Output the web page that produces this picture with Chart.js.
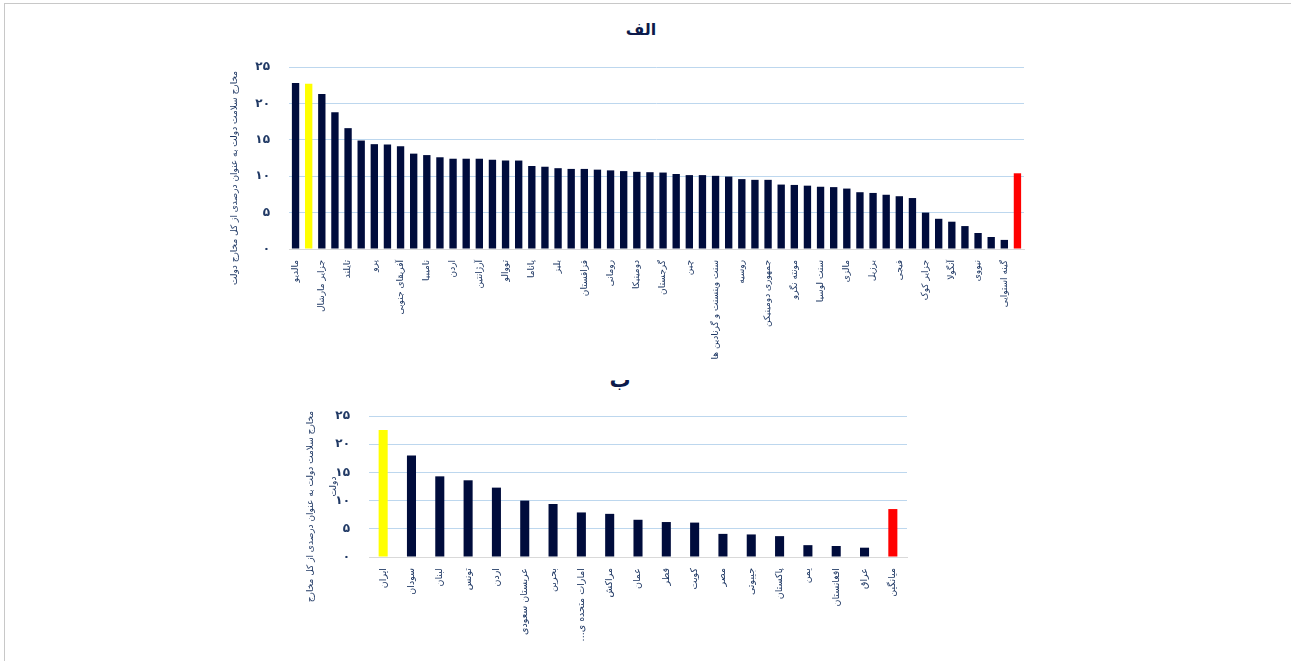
<!DOCTYPE html>
<html lang="fa">
<head>
<meta charset="utf-8">
<script src="https://cdn.jsdelivr.net/npm/chart.js@4.4.0/dist/chart.umd.min.js"></script>
<style>
  html, body { margin: 0; padding: 0; background: #fff; }
  body { width: 1291px; height: 661px; position: relative; overflow: hidden; }
  .frame { position: absolute; left: 4px; top: 3px; right: 0; bottom: 0;
           border-left: 1px solid #c8c8c8; border-top: 1px solid #c8c8c8; }
  .title { position: absolute; width: 200px; text-align: center; transform: translate(-50%, -50%);
           font: bold 16px 'DejaVu Sans', sans-serif; color: #0c1a4b; line-height: 24px; }
  #chartA { position: absolute; left: 220px; top: 10px; }
  #chartB { position: absolute; left: 290px; top: 365px; }
</style>
</head>
<body>
<div class="frame"></div>
<div class="title" style="left:641px; top:30px;">الف</div>
<div class="title" style="left:620px; top:380px; font-size:21px;">ب</div>
<canvas id="chartA" width="842" height="360"></canvas>
<canvas id="chartB" width="660" height="290"></canvas>

<script>
// --- data: chart "الف" (every other country is labelled in the original)
const countriesA = [
  'مالدیو', '', 'جزایر مارشال', '', 'تایلند', '', 'پرو', '', 'آفریقای جنوبی', '',
  'نامیبیا', '', 'اردن', '', 'آرژانتین', '', 'تووالو', '', 'پاناما', '',
  'بلیز', '', 'قزاقستان', '', 'رومانی', '', 'دومینیکا', '', 'گرجستان', '',
  'چین', '', 'سنت وینسنت و گرنادین ها', '', 'روسیه', '', 'جمهوری دومینیکن', '', 'مونته نگرو', '',
  'سنت لوسیا', '', 'مالزی', '', 'برزیل', '', 'فیجی', '', 'جزایر کوک', '',
  'آنگولا', '', 'نیووی', '', 'گینه استوایی', 'میانگین'
];
const valuesA = [
  22.8, 22.7, 21.3, 18.8, 16.6, 14.9, 14.4, 14.35, 14.1, 13.1,
  12.9, 12.6, 12.4, 12.4, 12.4, 12.25, 12.15, 12.15, 11.4, 11.3,
  11.1, 11.0, 11.0, 10.9, 10.8, 10.7, 10.6, 10.55, 10.5, 10.3,
  10.15, 10.15, 10.05, 9.95, 9.6, 9.5, 9.5, 8.85, 8.8, 8.7,
  8.55, 8.5, 8.3, 7.8, 7.7, 7.45, 7.25, 7.0, 5.0, 4.15,
  3.75, 3.15, 2.2, 1.65, 1.25, 10.4
];
const iranIndexA = 1;
const meanIndexA = 55;

// --- data: chart "ب"
const countriesB = [
  'ایران', 'سودان', 'لبنان', 'تونس', 'اردن', 'عربستان سعودی', 'بحرین', 'امارات متحده ی...\u200F',
  'مراکش', 'عمان', 'قطر', 'کویت', 'مصر', 'جیبوتی', 'پاکستان', 'یمن', 'افغانستان', 'عراق', 'میانگین'
];
const valuesB = [22.5, 18.0, 14.3, 13.6, 12.3, 10.0, 9.4, 7.9, 7.65, 6.6, 6.2, 6.1, 4.1, 4.0, 3.7, 2.1, 1.95, 1.65, 8.5];
const iranIndexB = 0;
const meanIndexB = 18;

const yTicks = [0, 5, 10, 15, 20, 25];
const yTitle = 'مخارج سلامت دولت به عنوان درصدی از کل مخارج دولت';

const FONT = "'DejaVu Sans', sans-serif";
const NAVY = '#000c3c';
const TEXT = '#1f3864';
// trailing gap pushes the rotated axis title a bit lower, as in the original
const GAP = '\u00A0'.repeat(14);

function toFa(n) {
  return String(n).replace(/\d/g, d => '۰۱۲۳۴۵۶۷۸۹'[d]);
}

function barColors(values, iranIdx, meanIdx) {
  return values.map((v, i) => i === iranIdx ? '#ffff00' : (i === meanIdx ? '#ff0000' : NAVY));
}

function makeChart(id, cfg) {
  const ctx = document.getElementById(id);
  return new Chart(ctx, {
    type: 'bar',
    data: {
      labels: cfg.labels,
      datasets: [{
        data: cfg.values,
        backgroundColor: barColors(cfg.values, cfg.iran, cfg.mean),
        borderWidth: 0,
        barPercentage: cfg.barPct,
        categoryPercentage: 1
      }]
    },
    options: {
      responsive: false,
      animation: false,
      layout: { padding: { left: 0, right: cfg.padRight, top: cfg.padTop, bottom: 0 } },
      plugins: {
        legend: { display: false },
        tooltip: { enabled: false }
      },
      scales: {
        x: {
          grid: { display: false },
          border: { color: '#d9d9d9' },
          ticks: {
            autoSkip: false,
            minRotation: 90,
            maxRotation: 90,
            padding: 3,
            color: TEXT,
            font: { family: FONT, size: cfg.labelSize },
            callback: function(v, i) {
              if (cfg.everyOther && i % 2 === 1) return '';
              return this.getLabelForValue(v);
            }
          },
          afterFit: s => { s.height = cfg.xHeight; }
        },
        y: {
          min: 0,
          max: 25,
          afterBuildTicks: s => { s.ticks = yTicks.map(v => ({ value: v })); },
          border: { display: false },
          grid: {
            drawTicks: false,
            color: c => c.tick && c.tick.value === 0 ? '#d9d9d9' : '#bdd7ee'
          },
          ticks: {
            padding: cfg.tickPad,
            color: TEXT,
            font: { family: FONT, size: 12, weight: 'bold' },
            callback: v => toFa(v)
          },
          title: {
            display: true,
            text: cfg.yTitle,
            color: TEXT,
            font: { family: FONT, size: 9, lineHeight: cfg.yTitleLH },
            padding: { top: cfg.yTitleTop, bottom: 0 }
          },
          afterFit: s => { s.width = cfg.yWidth; }
        }
      }
    }
  });
}

makeChart('chartA', {
  labels: countriesA, values: valuesA, iran: iranIndexA, mean: meanIndexA,
  padTop: 57, barPct: 0.56, padRight: 38, xHeight: 121, yWidth: 69, tickPad: 19,
  labelSize: 9, yTitle: yTitle + GAP, yTitleTop: 9, yTitleLH: 1.2, everyOther: true
});

makeChart('chartB', {
  labels: countriesB, values: valuesB, iran: iranIndexB, mean: meanIndexB,
  padTop: 51, barPct: 0.32, padRight: 43, xHeight: 98, yWidth: 79, tickPad: 19,
  labelSize: 9.5, yTitle: ['مخارج سلامت دولت به عنوان درصدی از کل مخارج' + GAP, 'دولت'],
  yTitleTop: 9, yTitleLH: 2.6, everyOther: false
});
</script>
</body>
</html>
